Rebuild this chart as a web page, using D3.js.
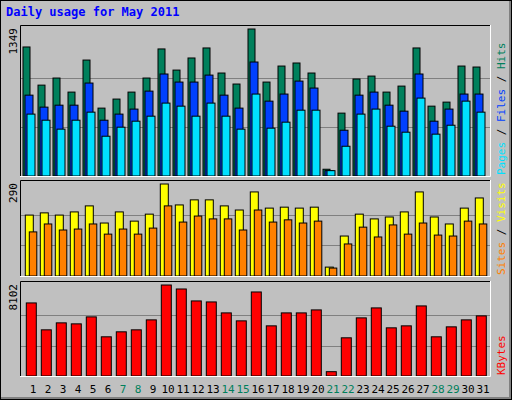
<!DOCTYPE html>
<html>
<head>
<meta charset="UTF-8">
<script src="https://d3js.org/d3.v7.min.js"></script>
<style>
  body { margin: 0; background: #fff; }
  text { font-family: "DejaVu Sans Mono", monospace; }
</style>
</head>
<body>
<div id="chart"></div>
<script>
// Daily usage, May 2011
const days = d3.range(1, 32);
const weekend = [7, 8, 14, 15, 21, 22, 28, 29];
const hits   = [1184,834,899,770,1064,623,706,770,899,1166,972,1083,1175,945,844,1349,862,1009,1037,945,62,577,890,917,770,825,1175,641,678,1009,1000];
const files  = [742,632,650,650,853,512,568,614,779,936,862,862,926,742,623,1046,687,752,871,807,49,420,742,770,650,595,936,503,614,752,752];
const pages  = [568,512,430,512,586,365,448,503,549,669,641,549,669,549,430,752,439,494,604,604,49,273,568,614,457,402,715,384,466,687,586];
const visits = [192,199,192,202,221,167,202,173,195,290,224,240,240,221,208,265,214,217,214,217,28,126,195,180,186,202,265,186,164,214,246];
const sites  = [139,164,145,148,164,132,148,132,151,221,170,189,180,180,145,208,170,177,167,173,25,101,154,123,161,132,167,129,126,173,164];
const kbytes = [6505,4110,4731,4642,5263,3489,3933,4110,4997,8102,7747,6683,6594,5618,4909,7481,4465,5618,5618,5884,384,3400,5175,6062,4288,4465,6239,3489,4376,4997,5352];

const W = 512, H = 400;
const svg = d3.select("#chart").append("svg").attr("width", W).attr("height", H);

svg.append("rect").attr("width", W).attr("height", H).attr("fill", "#c0c0c0");
svg.append("path").attr("d", `M0.5,${H-0.5}V0.5H${W-0.5}`).attr("fill", "none").attr("stroke", "#fff");
svg.append("path").attr("d", `M1,${H-1.5}H${W-1.5}V1`).attr("fill", "none").attr("stroke", "#808080").attr("stroke-width", 3);
svg.append("rect").attr("x", 0.5).attr("y", 0.5).attr("width", W - 1).attr("height", H - 1)
  .attr("fill", "none").attr("stroke", "#000");

svg.append("text").attr("x", 6).attr("y", 16).attr("fill", "#0000ff")
  .attr("font-size", 12).attr("font-weight", "bold").text("Daily usage for May 2011");

const x = d3.scaleBand().domain(days).range([23, 488]);

const panels = [
  { top: 25, bottom: 177, max: 1349, series: [[hits, "#00805c", 0, 7], [files, "#0040ff", 2, 8], [pages, "#00e0ff", 4, 8]],
    label: [["Pages", "#00e0ff"], [" / ", "#000"], ["Files", "#0040ff"], [" / ", "#000"], ["Hits", "#00805c"]] },
  { top: 180, bottom: 277, max: 290, series: [[visits, "#ffff00", 2.3, 8], [sites, "#ff8000", 6.3, 7.5]],
    label: [["Sites", "#ff8000"], [" / ", "#000"], ["Visits", "#ffff00"]] },
  { top: 281, bottom: 377, max: 8102, series: [[kbytes, "#ff0000", 3.3, 10]],
    label: [["KBytes", "#ff0000"]] }
];

panels.forEach(p => {
  const y = d3.scaleLinear().domain([0, p.max]).range([p.bottom - 1, p.top + 4]);
  const g = svg.append("g");
  g.append("rect").attr("x", 20).attr("y", p.top).attr("width", 471).attr("height", p.bottom - p.top)
    .attr("fill", "#c0c0c0");
  [1, 2].forEach(k => {
    const yy = Math.round(p.bottom - 1 - (p.bottom - 1 - p.top - 4) * k / 3) + 0.5;
    g.append("line").attr("x1", 21).attr("x2", 490).attr("y1", yy).attr("y2", yy)
      .attr("stroke", "#808080").attr("stroke-width", 1);
  });
  p.series.forEach(([vals, color, off, w]) => {
    g.selectAll(null).data(vals).join("rect")
      .attr("x", (d, i) => x(days[i]) + off)
      .attr("y", d => y(d))
      .attr("width", w)
      .attr("height", d => y(0) - y(d))
      .attr("fill", color).attr("stroke", "#000").attr("stroke-width", 1);
  });
  g.append("path").attr("d", `M20.5,${p.bottom}V${p.top + 0.5}H491`).attr("fill", "none").attr("stroke", "#000");
  g.append("path").attr("d", `M20,${p.bottom - 0.5}H490.5V${p.top}`).attr("fill", "none").attr("stroke", "#fff");

  g.append("text").attr("transform", `translate(17,${p.top + 3}) rotate(-90)`)
    .attr("text-anchor", "end").attr("font-size", 11).attr("fill", "#000").text(p.max);

  const t = g.append("text").attr("transform", `translate(505,${p.bottom - 2}) rotate(-90)`)
    .attr("font-size", 11);
  p.label.forEach(([s, c]) => t.append("tspan").attr("fill", c).text(s));
});

svg.selectAll(".day").data(days).join("text")
  .attr("x", d => x(d) + 10).attr("y", 393)
  .attr("text-anchor", "middle").attr("font-size", 11)
  .attr("fill", d => weekend.includes(d) ? "#00805c" : "#000")
  .text(d => d);
</script>
</body>
</html>
